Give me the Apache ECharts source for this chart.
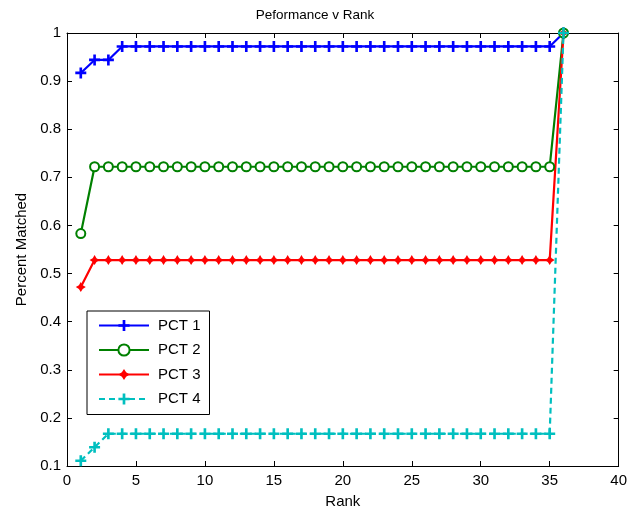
<!DOCTYPE html>
<html><head><meta charset="utf-8">
<script src="https://cdn.jsdelivr.net/npm/echarts@6/dist/echarts.min.js"></script>
<style>html,body{margin:0;padding:0;background:#fff}#c{width:630px;height:514px}</style>
</head><body><div id="c"></div>
<script>
const ranks = Array.from({length:36},(_, i)=>i+1);
const pct1 = [0.917,0.944,0.944].concat(Array(32).fill(0.972)).concat([1.0]);
const pct2 = [0.583].concat(Array(34).fill(0.722)).concat([1.0]);
const pct3 = [0.472].concat(Array(34).fill(0.528)).concat([1.0]);
const pct4 = [0.111,0.139].concat(Array(33).fill(0.167)).concat([1.0]);
const seriesNames = ['PCT 1','PCT 2','PCT 3','PCT 4'];
const xTicks = {min:0,max:40,interval:5};
const yTicks = {min:0.1,max:1,interval:0.1};

const plus = 'path://M-1.2,-5L1.2,-5L1.2,-1.2L5,-1.2L5,1.2L1.2,1.2L1.2,5L-1.2,5L-1.2,1.2L-5,1.2L-5,-1.2L-1.2,-1.2Z';
const star = 'path://M0,-5L1.9,-1.9L5,0L1.9,1.9L0,5L-1.9,1.9L-5,0L-1.9,-1.9Z';
const font = 'Liberation Sans, Arial, sans-serif';
const fs = 15;
function pts(arr){return ranks.map((r,i)=>[r,arr[i]]);}

const chart = echarts.init(document.getElementById('c'));
const axisCommon = {
  axisLine:{show:true,onZero:false,lineStyle:{color:'#000',width:1}},
  axisTick:{show:true,inside:true,length:5,lineStyle:{color:'#000'}},
  splitLine:{show:false}
};
chart.setOption({
  animation:false,
  title:{text:'Peformance v Rank',left:'center',top:3,textStyle:{fontFamily:font,fontSize:13.5,fontWeight:'normal',color:'#000'}},
  grid:{left:67,right:11,top:33,bottom:48},
  legend:{
    data:seriesNames.map(n=>({name:n})),
    orient:'vertical',left:87,top:311,
    itemWidth:50,itemHeight:14,itemGap:9.5,
    padding:[7,9,8,11],
    borderColor:'#000',borderWidth:1,backgroundColor:'#fff',
    textStyle:{fontFamily:font,fontSize:fs,color:'#000',padding:[0,0,0,4]}
  },
  xAxis:[
    Object.assign({type:'value',min:xTicks.min,max:xTicks.max,interval:xTicks.interval,position:'bottom',
      name:'Rank',nameLocation:'middle',nameGap:28,nameTextStyle:{fontFamily:font,fontSize:fs,color:'#000'},
      axisLabel:{fontFamily:font,fontSize:fs,color:'#000',margin:7}},axisCommon),
    Object.assign({type:'value',min:xTicks.min,max:xTicks.max,interval:xTicks.interval,position:'top',axisLabel:{show:false}},axisCommon)
  ],
  yAxis:[
    Object.assign({type:'value',min:yTicks.min,max:yTicks.max,interval:yTicks.interval,position:'left',
      name:'Percent Matched',nameLocation:'middle',nameGap:38,nameTextStyle:{fontFamily:font,fontSize:fs,color:'#000'},
      axisLabel:{fontFamily:font,fontSize:fs,color:'#000',margin:6,formatter:v=>String(Math.round(v*10)/10)}},axisCommon),
    Object.assign({type:'value',min:yTicks.min,max:yTicks.max,interval:yTicks.interval,position:'right',axisLabel:{show:false}},axisCommon)
  ],
  series:[
    {name:seriesNames[0],type:'line',data:pts(pct1),symbol:plus,symbolSize:11,
      lineStyle:{color:'#0000ff',width:2.2},itemStyle:{color:'#0000ff'}},
    {name:seriesNames[1],type:'line',data:pts(pct2),symbol:'emptyCircle',symbolSize:9,
      lineStyle:{color:'#008000',width:2.2},itemStyle:{color:'#008000',borderWidth:2,borderColor:'#008000'}},
    {name:seriesNames[2],type:'line',data:pts(pct3),symbol:star,symbolSize:10,
      lineStyle:{color:'#ff0000',width:2.2},itemStyle:{color:'#ff0000'}},
    {name:seriesNames[3],type:'line',data:pts(pct4),symbol:plus,symbolSize:11,
      lineStyle:{color:'#00bfbf',width:2.2,type:[6,4]},itemStyle:{color:'#00bfbf'}}
  ]
});
</script></body></html>
